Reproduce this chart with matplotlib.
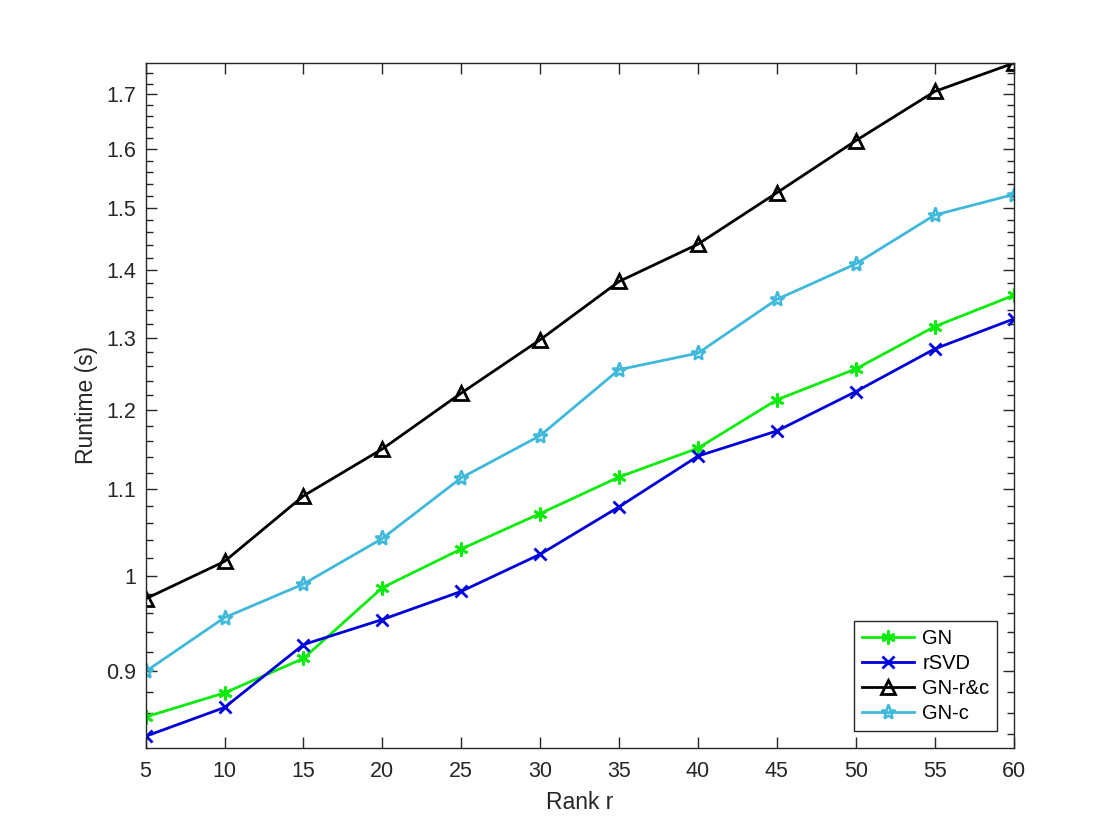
import matplotlib.pyplot as plt
from matplotlib.ticker import FixedLocator, MultipleLocator, NullFormatter

rank = [5, 10, 15, 20, 25, 30, 35, 40, 45, 50, 55, 60]

t_gn = [0.856, 0.879, 0.913, 0.987, 1.030, 1.071, 1.115, 1.151, 1.214, 1.256, 1.316, 1.362]
t_rsvd = [0.838, 0.865, 0.927, 0.953, 0.983, 1.024, 1.079, 1.141, 1.173, 1.225, 1.284, 1.327]
t_gnrc = [0.975, 1.016, 1.092, 1.150, 1.223, 1.297, 1.383, 1.441, 1.525, 1.615, 1.705, 1.759]
t_gnc = [0.900, 0.955, 0.991, 1.042, 1.114, 1.167, 1.255, 1.278, 1.356, 1.410, 1.488, 1.522]

y_ticks = [0.9, 1.0, 1.1, 1.2, 1.3, 1.4, 1.5, 1.6, 1.7]
y_ticklabels = ["0.9", "1", "1.1", "1.2", "1.3", "1.4", "1.5", "1.6", "1.7"]

plt.rcParams['font.family'] = ['Liberation Sans', 'DejaVu Sans']
ax_col = (0.15, 0.15, 0.15)

fig = plt.figure(figsize=(11.2, 8.4), dpi=100)
ax = fig.add_axes([0.13, 0.11, 0.775, 0.815])

asterisk = (6, 2, 0)
ax.plot(rank, t_gn, color=(0.05, 0.92, 0.05), lw=2, marker=asterisk, ms=10, mew=2, label="GN")
ax.plot(rank, t_rsvd, color=(0, 0, 0.85), lw=2, marker="x", ms=9, mew=2, label="rSVD")
ax.plot(rank, t_gnrc, color="black", lw=2, marker="^", ms=10, mew=2, mfc="none", label="GN-r&c")
ax.plot(rank, t_gnc, color=(0.25, 0.72, 0.85), lw=2, marker="*", ms=11, mew=1.8, mfc="none", label="GN-c")

ax.set_yscale("log")
ax.set_xlim(5, 60)
ax.set_ylim(0.8276, 1.7593)
ax.set_xticks(range(5, 61, 5))
ax.yaxis.set_major_locator(FixedLocator(y_ticks))
ax.set_yticklabels(y_ticklabels)
ax.yaxis.set_minor_locator(MultipleLocator(0.02))
ax.yaxis.set_minor_formatter(NullFormatter())

ax.tick_params(which="both", direction="in", top=True, right=True, colors=ax_col, labelsize=15.5)
ax.tick_params(which="major", length=8, width=1)
ax.tick_params(which="minor", length=5, width=1)
ax.tick_params(axis="x", which="major", pad=10)
ax.tick_params(axis="y", which="major", pad=7)
for s in ax.spines.values():
    s.set_color(ax_col)
    s.set_linewidth(1)

ax.set_xlabel("Rank r", fontsize=16.5, color=ax_col, labelpad=6)
ax.set_ylabel("Runtime (s)", fontsize=16.5, color=ax_col, labelpad=6)

leg = ax.legend(loc="lower right", fontsize=14.5, fancybox=False, framealpha=1,
                edgecolor=ax_col, handlelength=2.6, borderaxespad=0.8,
                handletextpad=0.4, labelspacing=0.3)
leg.get_frame().set_linewidth(1)

fig.savefig("out.png")
